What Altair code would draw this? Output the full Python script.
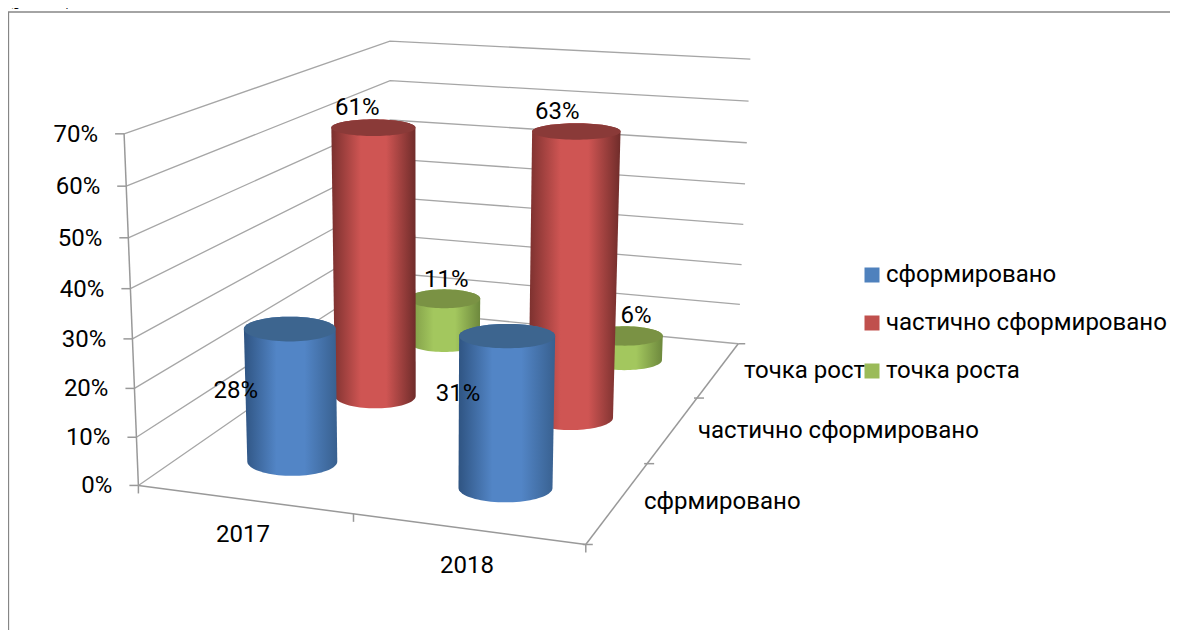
import altair as alt
import numpy as np
import pandas as pd

# ---- data ----
years = ["2017", "2018"]
series = ["сформировано", "частично сформировано", "точка роста"]
depth_labels = ["сфрмировано", "частично сформировано", "точка роста"]
formed = [28, 31]
partly = [61, 63]
growth = [11, 6]
values = [formed, partly, growth]
ticks = [0, 10, 20, 30, 40, 50, 60, 70]
colors = ["#4f81bd", "#c0504d", "#9bbb59"]
top_colors = ["#3d658f", "#8a3a38", "#7a9244"]
edge_colors = [("#2f5482", "#5285c6", "#38608f"),
               ("#7a302e", "#cf5553", "#6f2c2a"),
               ("#7b9644", "#a3c75e", "#6d883d")]

# ---- layout: camera fitted from the chart's box corners and column feet (picture pixels) ----
W, H = 1162, 622
FONT = "Roboto"
FS = 24
box = [((0, 0, 0), (138, 483)), ((0, 0, 70), (124, 134)),
       ((0, 1, 0), (390, 311)), ((0, 1, 70), (390, 41)),
       ((1, 1, 0), (737, 342)), ((1, 1, 70), (750, 59)),
       ((1, 0, 0), (585, 545))]
marks_fit = [((.25, 1 / 6, 0), (292, 462)), ((.25, 1 / 6, 28), (290, 330)),
             ((.75, 1 / 6, 0), (506, 490)), ((.75, 1 / 6, 31), (508, 337)),
             ((.25, .5, 0), (376, 397)), ((.25, .5, 61), (373, 128)),
             ((.75, .5, 0), (572, 422)), ((.75, .5, 63), (577, 131)),
             ((.25, 5 / 6, 0), (447, 343)), ((.25, 5 / 6, 11), (447, 299)),
             ((.75, 5 / 6, 0), (628, 362)), ((.75, 5 / 6, 6), (628, 335.5))]
rows = []
for pts, weight in [(box, 2.0), (marks_fit, 1.0)]:
    for (u, v, w), (px, py) in pts:
        X = [u, v, w / 70, 1]
        rows.append([weight * c for c in X + [0, 0, 0, 0] + [-px / 1000 * c for c in X]])
        rows.append([weight * c for c in [0, 0, 0, 0] + X + [-py / 1000 * c for c in X]])
P = np.linalg.svd(np.array(rows, float))[2][-1].reshape(3, 4)


def project(u, v, w):
    p = P @ np.array([u, v, w / 70, 1.0])
    return p[0] / p[2] * 1000, p[1] / p[2] * 1000


xs = alt.X("x:Q", scale=alt.Scale(domain=[8, 8 + W], range=[0, W], nice=False, zero=False), axis=None)
ys = alt.Y("y:Q", scale=alt.Scale(domain=[8, 8 + H], range=[0, H], nice=False, zero=False), axis=None)

# ---- frame ----
frame = pd.DataFrame({"x": [8.5, 8.5, 1178], "y": [630, 12, 12], "i": [0, 1, 2]})
layers = [alt.Chart(frame).mark_line(color="#868686", strokeWidth=1.3, clip=True).encode(x=xs, y=ys, order="i:Q")]

# ---- walls, floor and ticks ----
grid, axes = [], []
for t in ticks:
    for k, (u, v) in enumerate([(0, 0), (0, 1), (1, 1)]):
        x, y = project(u, v, t)
        grid.append({"x": x, "y": y, "g": f"g{t}", "i": k})
    x, y = project(0, 0, t)
    axes += [{"x": x - 9, "y": y, "g": f"t{t}", "i": 0}, {"x": x, "y": y, "g": f"t{t}", "i": 1}]
for g, path in {"left": [(0, 0, 0), (0, 0, 70)], "front": [(0, 0, 0), (1, 0, 0)], "side": [(1, 0, 0), (1, 1, 0)]}.items():
    for k, q in enumerate(path):
        x, y = project(*q)
        axes.append({"x": x, "y": y, "g": g, "i": k})
for k, u in enumerate([0, 0.5, 1]):
    x, y = project(u, 0, 0)
    axes += [{"x": x, "y": y, "g": f"b{k}", "i": 0}, {"x": x, "y": y + 8, "g": f"b{k}", "i": 1}]
for k, v in enumerate([0, 1 / 3, 2 / 3, 1]):
    x, y = project(1, v, 0)
    axes += [{"x": x - (0 if k == 3 else 3), "y": y, "g": f"d{k}", "i": 0}, {"x": x + 7, "y": y, "g": f"d{k}", "i": 1}]
layers.append(alt.Chart(pd.DataFrame(grid)).mark_line(color="#a6a6a6", strokeWidth=1.3).encode(x=xs, y=ys, detail="g:N", order="i:Q"))
layers.append(alt.Chart(pd.DataFrame(axes)).mark_line(color="#999999", strokeWidth=1.5).encode(x=xs, y=ys, detail="g:N", order="i:Q"))


# ---- cylinders, painted from the back row to the front row ----
def semi_axes(i, j, w):
    v = (j + 0.5) / 3
    a = (45 + 2 * i - 14 * (v - 1 / 6)) * (1 + 0.0007 * w)
    b = (14.5 - 6.8 * (v - 1 / 6)) * (1 - 0.0052 * w)
    return a, b


def cylinder(i, j, val):
    u, v = (i + 0.5) / 2, (j + 0.5) / 3
    bx, by = project(u, v, 0)
    tx, ty = project(u, v, val)
    ab, bb = semi_axes(i, j, 0)
    at, bt = semi_axes(i, j, val)
    th = np.linspace(0, np.pi, 41)
    body = pd.DataFrame({
        "x": np.r_[tx - at * np.cos(th), bx + ab * np.cos(th)],
        "y": np.r_[ty - bt * np.sin(th), by + bb * np.sin(th)],
    })
    body["i"] = range(len(body))
    full = np.linspace(0, 2 * np.pi, 81)
    top = pd.DataFrame({"x": tx + at * np.cos(full), "y": ty + bt * np.sin(full)})
    top["i"] = range(len(top))
    c0, c1, c2 = edge_colors[j]
    grad = alt.LinearGradient(gradient="linear", x1=0, x2=1, y1=0, y2=0, stops=[
        alt.GradientStop(offset=0, color=c0), alt.GradientStop(offset=0.35, color=c1),
        alt.GradientStop(offset=0.65, color=c1), alt.GradientStop(offset=1, color=c2)])
    return [
        alt.Chart(body).mark_line(interpolate="linear-closed", fill=grad, strokeWidth=0, strokeOpacity=0).encode(x=xs, y=ys, order="i:Q"),
        alt.Chart(top).mark_line(interpolate="linear-closed", fill=top_colors[j], strokeWidth=0, strokeOpacity=0).encode(x=xs, y=ys, order="i:Q"),
    ]


for j in [2, 1, 0]:
    for i in range(2):
        layers += cylinder(i, j, values[j][i])

# ---- texts ----
font = dict(font=FONT, fontSize=FS, color="black", baseline="middle")
right, center, left = [], [], []
for t in ticks:
    x, y = project(0, 0, t)
    right.append({"x": x - 26, "y": y + 1, "text": f"{t}%"})
for lab, q in zip(years, [(243, 535), (467, 566)]):
    center.append({"x": q[0], "y": q[1], "text": lab})
for lab, q in zip(depth_labels, [(644, 502), (698, 431), (744, 371)]):
    left.append({"x": q[0], "y": q[1], "text": lab})
label_offset = {(0, 0): (-54, 62), (1, 0): (-49, 58), (0, 1): (-16, -20), (1, 1): (-19, -19), (0, 2): (2, -19), (1, 2): (11, -20)}
for j, row in enumerate(values):
    for i, val in enumerate(row):
        x, y = project((i + 0.5) / 2, (j + 0.5) / 3, val)
        dx, dy = label_offset[(i, j)]
        center.append({"x": x + dx, "y": y + dy, "text": f"{val}%"})
for rows_, al in [(right, "right"), (center, "center"), (left, "left")]:
    layers.append(alt.Chart(pd.DataFrame(rows_)).mark_text(align=al, **font).encode(x=xs, y=ys, text="text:N"))
layers.append(alt.Chart(pd.DataFrame({"x": [0], "y": [3], "text": ["дующие:"]})).mark_text(
    align="left", baseline="alphabetic", font="Liberation Serif", fontSize=27, color="black").encode(x=xs, y=ys, text="text:N"))

# ---- legend ----
leg = pd.DataFrame({"x": [870] * 3, "y": [275] * 3, "s": series})
layers.append(alt.Chart(leg).mark_square(size=0).encode(
    x=xs, y=ys,
    color=alt.Color("s:N", scale=alt.Scale(domain=series, range=colors), legend=alt.Legend(
        title=None, orient="none", legendX=852, legendY=255, symbolType="square", symbolSize=225,
        symbolStrokeWidth=0, symbolOpacity=1, labelFont=FONT, labelFontSize=FS, labelColor="black", rowPadding=24, labelOffset=2,
        labelLimit=400, values=series))))

chart = alt.layer(*layers).properties(
    width=W, height=H, padding=0, autosize=alt.AutoSizeParams(type="none"), background="white"
).configure_view(stroke=None)
chart.save("out.html", embed_options={"renderer": "svg", "actions": False})
